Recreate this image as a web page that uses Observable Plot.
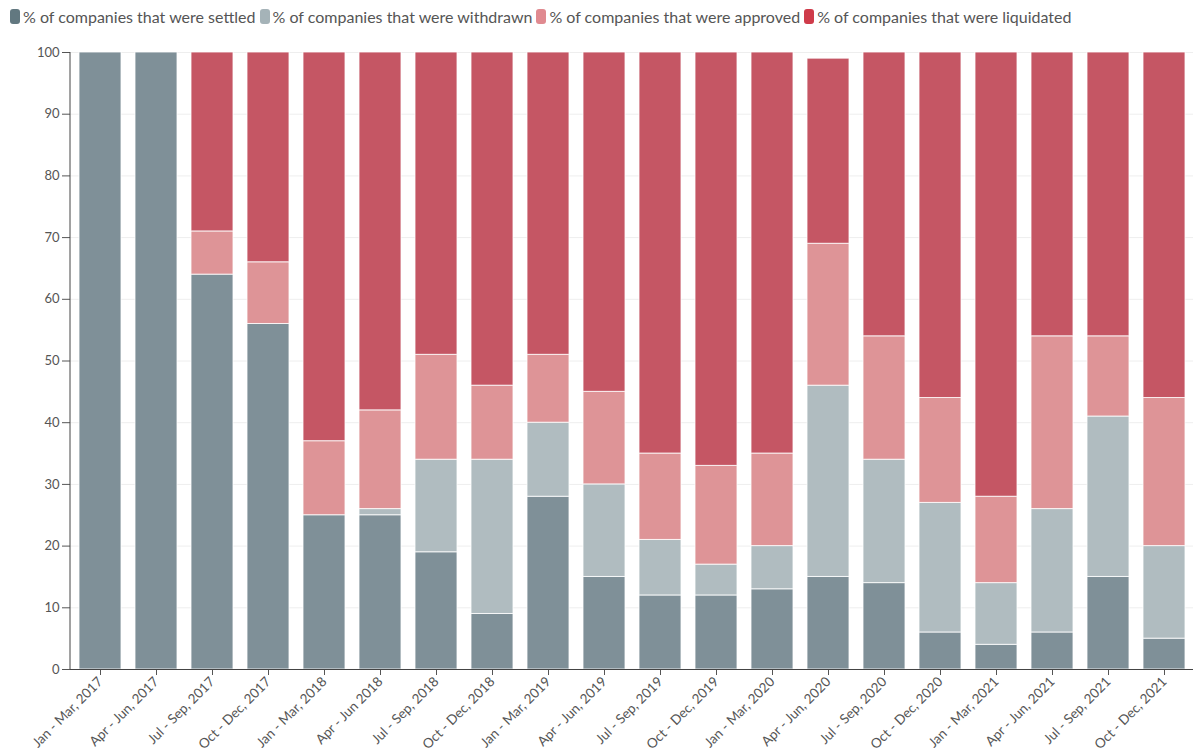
<!DOCTYPE html>
<html>
<head>
<meta charset="utf-8">
<script src="https://cdn.jsdelivr.net/npm/d3@7"></script>
<script src="https://cdn.jsdelivr.net/npm/@observablehq/plot@0.6"></script>
<style>
  html, body { margin: 0; padding: 0; background: #fff; font-family: Lato, "Open Sans", sans-serif; }
  #legend { height: 32px; display: flex; align-items: center; padding-left: 10px; font-size: 16px; color: #555; white-space: nowrap; }
  #legend .item { display: flex; align-items: center; margin-right: 4px; }
  #legend .sw { width: 10px; height: 15px; border-radius: 3px; margin-right: 3px; display: inline-block; }
</style>
</head>
<body>
<div id="legend"></div>
<div id="chart"></div>
<script>
const quarters = ["Jan - Mar, 2017","Apr - Jun, 2017","Jul - Sep, 2017","Oct - Dec, 2017","Jan - Mar, 2018","Apr - Jun 2018","Jul - Sep, 2018","Oct - Dec, 2018","Jan - Mar, 2019","Apr - Jun, 2019","Jul - Sep, 2019","Oct - Dec, 2019","Jan - Mar, 2020","Apr - Jun, 2020","Jul - Sep, 2020","Oct - Dec, 2020","Jan - Mar, 2021","Apr - Jun, 2021","Jul - Sep, 2021","Oct - Dec, 2021"];
const settled    = [100,100,64,56,25,25,19, 9,28,15,12,12,13,15,14, 6, 4, 6,15, 5];
const withdrawn  = [  0,  0, 0, 0, 0, 1,15,25,12,15, 9, 5, 7,31,20,21,10,20,26,15];
const approved   = [  0,  0, 7,10,12,16,17,12,11,15,14,16,15,23,20,17,14,28,13,24];
const liquidated = [  0,  0,29,34,63,58,49,54,49,55,65,67,65,30,46,56,72,46,46,56];

const seriesNames = ["% of companies that were settled","% of companies that were withdrawn","% of companies that were approved","% of companies that were liquidated"];
const seriesValues = [settled, withdrawn, approved, liquidated];
const barColors = ["#7f9098","#b0bcc0","#de9497","#c55664"];
const swatchColors = ["#627880","#a5b3b8","#e08a90","#cf3b4a"];

const rows = [];
seriesNames.forEach((s, si) => {
  quarters.forEach((q, qi) => rows.push({quarter: q, series: s, value: seriesValues[si][qi]}));
});

const legend = document.getElementById("legend");
seriesNames.forEach((s, i) => {
  const it = document.createElement("span");
  it.className = "item";
  it.innerHTML = `<span class="sw" style="background:${swatchColors[i]}"></span>${s}`;
  legend.appendChild(it);
});

const chart = Plot.plot({
  width: 1193,
  height: 723,
  marginTop: 20,
  marginLeft: 70,
  marginRight: 0,
  marginBottom: 86,
  style: {fontFamily: "Lato, 'Open Sans', sans-serif", fontSize: "13px", color: "#555"},
  x: {domain: quarters, label: null, paddingInner: 0.25, paddingOuter: 0.12, tickRotate: -45, tickSize: 6},
  y: {domain: [0, 100], ticks: d3.range(0, 101, 10), label: null, grid: false},
  color: {domain: seriesNames, range: barColors},
  marks: [
    Plot.gridY(d3.range(10, 101, 10), {stroke: "#eee", strokeOpacity: 1}),
    Plot.barY(rows, {x: "quarter", y: "value", fill: "series", order: seriesNames, stroke: "#fff", strokeWidth: 1, strokeOpacity: 0.8}),
    Plot.axisY({ticks: d3.range(0, 101, 10), tickSize: 8, tickPadding: 3, label: null, fontSize: 13}),
    Plot.axisX({tickRotate: -45, tickSize: 6, tickPadding: 4, label: null, fontSize: 13.5}),
    Plot.ruleY([0], {stroke: "#444"})
  ]
});
document.getElementById("chart").appendChild(chart);
// y axis line at left edge of plot
d3.select(chart).append("line")
  .attr("x1", 70).attr("x2", 70)
  .attr("y1", 20).attr("y2", 723 - 86)
  .attr("stroke", "#444");
</script>
</body>
</html>
